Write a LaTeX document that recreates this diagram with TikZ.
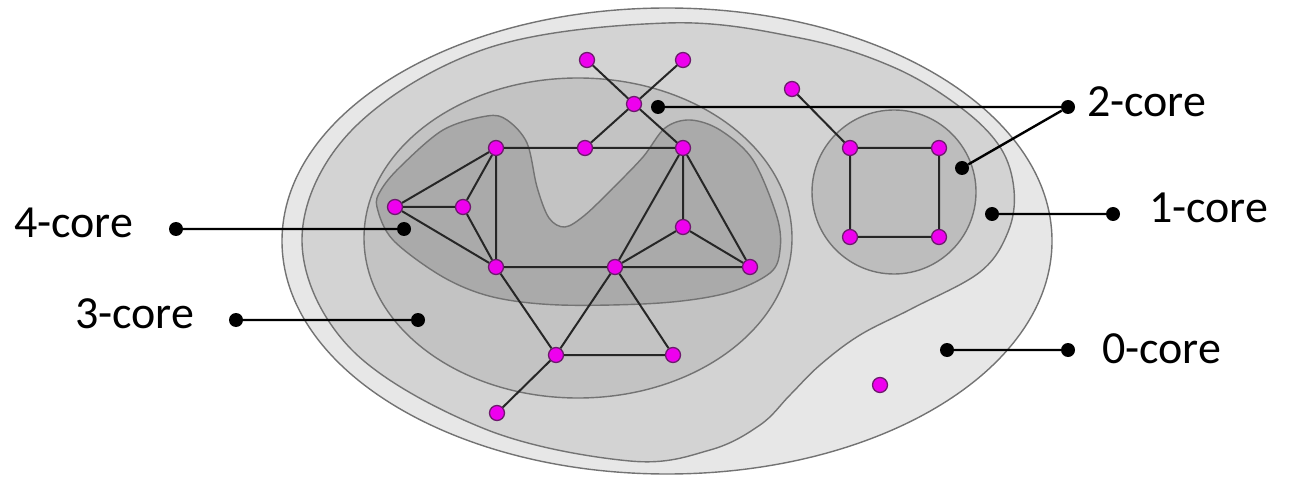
\documentclass[tikz,border=0pt]{standalone}
\usepackage{fontspec}
\setmainfont{Carlito}
\begin{document}
\begin{tikzpicture}[x=1pt,y=-1pt,
  region/.style={draw=black!55,line width=1.4pt},
  vtx/.style={circle,fill=vfill,draw=vline,line width=1.3pt,inner sep=0pt,minimum size=15pt},
  edge/.style={draw=black!85,line width=2pt},
  dot/.style={circle,fill=black,inner sep=0pt,minimum size=14pt},
  lead/.style={draw=black,line width=2.4pt},
  lbl/.style={font=\fontsize{46}{55}\selectfont,inner sep=0pt}]
\definecolor{c0}{HTML}{E7E7E7}
\definecolor{c1}{HTML}{D3D3D3}
\definecolor{c2}{HTML}{C3C3C3}
\definecolor{c2b}{HTML}{BDBDBD}
\definecolor{c4}{HTML}{AAAAAA}
\definecolor{vfill}{HTML}{EE00EE}
\definecolor{vline}{HTML}{6E1A6E}
\useasboundingbox (0,0) rectangle (1289,478);
% 0-core
\path[region,fill=c0] (667,241) ellipse [x radius=385, y radius=233];
% 1-core
\path[region,fill=c1] plot[smooth cycle,tension=0.6] coordinates {
 (302,240) (351,131) (485,49) (667,23) (800,38) (893,67) (960,107) (1000,147)
 (1014,190) (1008,232)
 (980,272) (913,308) (860,335) (820,365) (790,395) (760,425) (710,450) (630,461)
 (485,429) (351,349)};
% 2-core
\path[region,fill=c2] (578,238) ellipse [x radius=214, y radius=160];
\path[region,fill=c2b] (894,192) circle [radius=82];
% dark region
\path[region,fill=c4] plot[smooth cycle,tension=0.55] coordinates {
 (377,207) (393,240) (443,277) (493,297) (560,305) (660,303) (727,293) (770,273)
 (780,250) (777,217) (753,160) (720,130) (690,120) (665,128) (643,157) (613,188)
 (585,215) (565,227) (549,218) (537,187) (527,143) (507,120) (487,116) (443,130)
 (400,167) (381,190)};
% vertices
\node[vtx] (a1) at (587,60) {};
\node[vtx] (a2) at (683,60) {};
\node[vtx] (c)  at (634,104) {};
\node[vtx] (t1) at (585,148) {};
\node[vtx] (t2) at (496,148) {};
\node[vtx] (t3) at (683,148) {};
\node[vtx] (l1) at (395,207) {};
\node[vtx] (l2) at (463,207) {};
\node[vtx] (r1) at (683,227) {};
\node[vtx] (b1) at (496,267) {};
\node[vtx] (b2) at (615,267) {};
\node[vtx] (b3) at (750,267) {};
\node[vtx] (d1) at (556,355) {};
\node[vtx] (d2) at (673,355) {};
\node[vtx] (e)  at (497,413) {};
\node[vtx] (f)  at (792,89) {};
\node[vtx] (s1) at (850,148) {};
\node[vtx] (s2) at (939,148) {};
\node[vtx] (s3) at (850,237) {};
\node[vtx] (s4) at (939,237) {};
\node[vtx] (iso) at (880,385) {};
% edges
\path[edge] (a1) -- (c) (c) -- (t3) (a2) -- (c) (c) -- (t1)
 (t2) -- (t1) (t1) -- (t3)
 (t2) -- (l1) (t2) -- (l2) (t2) -- (b1)
 (l1) -- (l2) (l1) -- (b1) (l2) -- (b1)
 (t3) -- (r1) (t3) -- (b2) (t3) -- (b3)
 (r1) -- (b2) (r1) -- (b3)
 (b1) -- (b2) (b2) -- (b3)
 (b1) -- (d1) (b2) -- (d1) (b2) -- (d2) (d1) -- (d2) (d1) -- (e)
 (f) -- (s1) (s1) -- (s2) (s2) -- (s4) (s4) -- (s3) (s3) -- (s1);
% leaders
\node[dot] (p4a) at (176,229) {};
\node[dot] (p4b) at (404,229) {};
\node[dot] (p3a) at (236,320) {};
\node[dot] (p3b) at (418,320) {};
\node[dot] (p2a) at (1068,107) {};
\node[dot] (p2b) at (658,107) {};
\node[dot] (p2c) at (962,168) {};
\node[dot] (p1a) at (1113,214) {};
\node[dot] (p1b) at (992,214) {};
\node[dot] (p0a) at (1068,350) {};
\node[dot] (p0b) at (947,350) {};
\path[lead] (p4a) -- (p4b) (p3a) -- (p3b) (p2a) -- (p2b) (p2a) -- (p2c)
 (p1a) -- (p1b) (p0a) -- (p0b);
% labels
\node[lbl,anchor=base west] (L4) at (14,238) {4-core};
\node[lbl,anchor=base west] (L3) at (75,328) {3-core};
\node[lbl,anchor=base west] (L2) at (1087,117) {2-core};
\node[lbl,anchor=base west] (L1) at (1149,223) {1-core};
\node[lbl,anchor=base west] (L0) at (1102,363) {0-core};
\end{tikzpicture}
\end{document}
